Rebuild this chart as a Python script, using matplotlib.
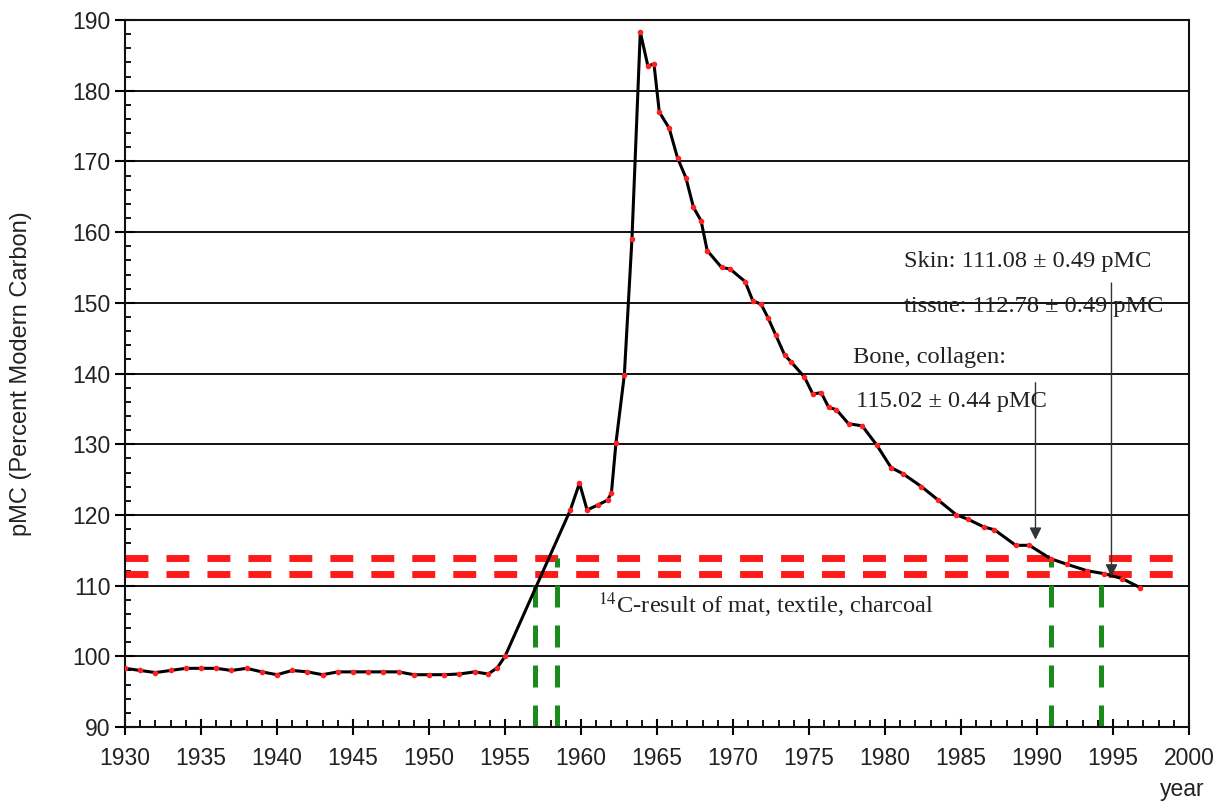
import numpy as np
import matplotlib.pyplot as plt
from matplotlib.ticker import MultipleLocator

# atmospheric 14C record (pMC) by year
years = [1930.0, 1931.0, 1932.0, 1933.0, 1934.0, 1935.0, 1936.0, 1937.0, 1938.0, 1939.0,
         1940.0, 1941.0, 1942.0, 1943.0, 1944.0, 1945.0, 1946.0, 1947.0, 1948.0, 1949.0,
         1950.0, 1951.0, 1952.0, 1953.0, 1953.9, 1954.5, 1955.0, 1959.3, 1959.9, 1960.4,
         1961.1, 1961.75, 1962.0, 1962.3, 1962.85, 1963.35, 1963.9, 1964.4, 1964.8, 1965.15,
         1965.8, 1966.35, 1966.9, 1967.4, 1967.9, 1968.3, 1969.25, 1969.8, 1970.8, 1971.3,
         1971.85, 1972.3, 1972.8, 1973.4, 1973.8, 1974.7, 1975.25, 1975.8, 1976.3, 1976.8,
         1977.6, 1978.5, 1979.45, 1980.4, 1981.2, 1982.4, 1983.5, 1984.7, 1985.45, 1986.5,
         1987.2, 1988.6, 1989.5, 1990.9, 1992.0, 1993.3, 1994.4, 1995.6, 1996.8]
pmc = [98.3, 98.0, 97.7, 98.0, 98.3, 98.3, 98.3, 98.0, 98.3, 97.8,
       97.4, 98.0, 97.8, 97.4, 97.8, 97.8, 97.8, 97.8, 97.8, 97.4,
       97.4, 97.4, 97.5, 97.8, 97.5, 98.4, 100.0, 120.7, 124.5, 120.7,
       121.4, 122.1, 123.1, 130.2, 139.8, 159.0, 188.3, 183.5, 183.8, 177.0,
       174.7, 170.5, 167.7, 163.5, 161.6, 157.4, 155.0, 154.8, 153.0, 150.3,
       149.8, 147.9, 145.5, 142.6, 141.7, 139.5, 137.1, 137.3, 135.2, 134.9,
       132.9, 132.6, 129.9, 126.7, 125.8, 124.0, 122.1, 120.0, 119.4, 118.3,
       117.9, 115.7, 115.7, 113.8, 113.0, 112.1, 111.7, 111.0, 109.7]

# 14C result range of mat, textile, charcoal
result_levels = [111.6, 113.9]
# years where the range meets the curve, and the level each line reaches
cross_years = [1957.0, 1958.4, 1990.9, 1994.2]
cross_levels = [111.6, 113.9, 113.9, 111.6]

# arrows: x position, start level, tip level
arrow_x = [1989.9, 1994.9]
arrow_from = [138.7, 152.8]
arrow_to = [116.5, 111.3]

fig = plt.figure(figsize=(12.15, 8.02), dpi=100)
ax = fig.add_axes([0.1029, 0.0935, 0.8757, 0.8815])

sans = 'Liberation Sans'
serif = 'Liberation Serif'
plt.rcParams['mathtext.fontset'] = 'stix'

ax.set_xlim(1930, 2000)
ax.set_ylim(90, 190)

for v in range(100, 191, 10):
    ax.axhline(v, color='#111111', lw=1.4, zorder=1)

ax.hlines(result_levels, 1930, 1999.3, colors='#ff1a1a', lw=5.0,
          linestyles=(0, (3.3, 2.6)), zorder=2)
ax.vlines(cross_years, 90, cross_levels, colors='#1a8a1a', lw=3.6,
          linestyles=(0, (4.4, 3.6)), zorder=2)

ax.plot(years, pmc, color='black', lw=2.2, marker='o', ms=3.0,
        mfc='#ff2020', mec='#ff2020', zorder=3)

for x, y0, y1 in zip(arrow_x, arrow_from, arrow_to):
    ax.annotate('', xy=(x, y1), xytext=(x, y0),
                arrowprops=dict(arrowstyle='-|>', color='#333333', lw=1.0,
                                mutation_scale=18, shrinkA=0, shrinkB=0),
                zorder=4)

tkw = dict(family=serif, fontsize=17.6, color='#222222', va='center', ha='left', zorder=5)
ax.text(1981.25, 155.8, 'Skin: 111.08 ± 0.49 pMC', **tkw)
ax.text(1981.25, 149.5, 'tissue: 112.78 ± 0.49 pMC', **tkw)
ax.text(1977.9, 142.3, 'Bone, collagen:', **tkw)
ax.text(1978.1, 136.0, '115.02 ± 0.44 pMC', **tkw)
ax.text(1961.1, 107.2, r'$^{14}$C-result of mat, textile, charcoal', **tkw)

# axes frame and ticks
for s in ax.spines.values():
    s.set_linewidth(1.5)
    s.set_color('#111111')
ax.xaxis.set_major_locator(MultipleLocator(5))
ax.xaxis.set_minor_locator(MultipleLocator(1))
ax.yaxis.set_major_locator(MultipleLocator(10))
ax.yaxis.set_minor_locator(MultipleLocator(2))
ax.tick_params(axis='x', which='major', direction='inout', length=11, width=1.5, pad=9)
ax.tick_params(axis='x', which='minor', direction='in', length=5, width=1.3)
ax.tick_params(axis='y', which='major', direction='inout', length=15, width=1.5, pad=3)
ax.tick_params(axis='y', which='minor', direction='in', length=4.5, width=1.3)
for lab in ax.get_xticklabels() + ax.get_yticklabels():
    lab.set_family(sans)
    lab.set_fontsize(16.5)
    lab.set_color('#222222')

ax.set_ylabel('pMC (Percent Modern Carbon)', family=sans, fontsize=17, color='#222222')
ax.yaxis.set_label_coords(-0.0874, 0.5)
ax.text(0.994, -0.089, 'year', transform=ax.transAxes, family=sans, fontsize=16.5,
        color='#222222', ha='center', va='center')

fig.savefig('out.png', dpi=100)
